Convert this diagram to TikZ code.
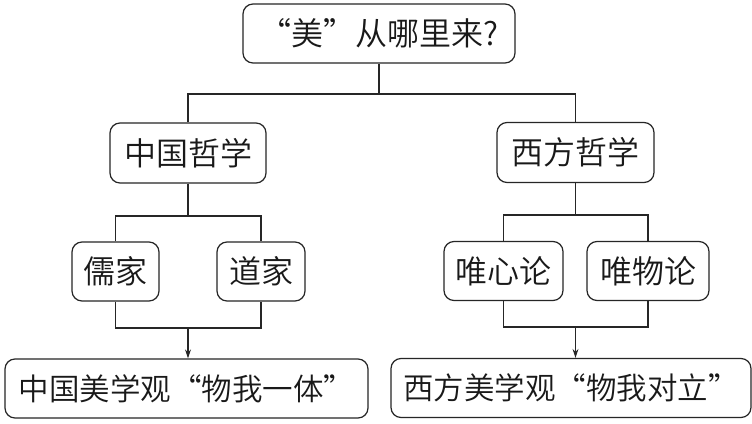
\documentclass[tikz,border=0pt]{standalone}
\usepackage{fontspec}
\newfontfamily\cjk{Noto Sans CJK SC}[UprightFont={* DemiLight}]
\usetikzlibrary{arrows.meta}
\begin{document}
\begin{tikzpicture}[x=1pt,y=-1pt,
  box/.style={draw=black!85,line width=1.2pt,rounded corners=10pt,inner sep=0pt,
    font=\cjk\fontsize{32}{36}\selectfont,text=black!90,anchor=center},
  conn/.style={draw=black!85,line width=1.1pt},
  arr/.style={conn,-{Stealth[length=9pt,width=6pt]}}]
\useasboundingbox[fill=white] (0,0) rectangle (752,423);
\node[box,minimum width=272pt,minimum height=59pt] (top) at (379,33.5) {“美”从哪里来?};
\node[box,minimum width=156pt,minimum height=60pt] (zg) at (188,153) {中国哲学};
\node[box,minimum width=157pt,minimum height=60pt] (xf) at (575.5,152.5) {西方哲学};
\node[box,minimum width=87pt,minimum height=59pt] (rj) at (115.5,271.5) {儒家};
\node[box,minimum width=88pt,minimum height=59pt] (dj) at (261,271.5) {道家};
\node[box,minimum width=119pt,minimum height=59pt] (wx) at (503.5,271) {唯心论};
\node[box,minimum width=122pt,minimum height=59pt] (ww) at (648,271) {唯物论};
\node[box,minimum width=363pt,minimum height=59pt,font=\cjk\fontsize{30.5}{36}\selectfont] (bl) at (186.5,388.5) {中国美学观“物我一体”};
\node[box,minimum width=360pt,minimum height=59pt,font=\cjk\fontsize{30.5}{36}\selectfont] (br) at (571,388) {西方美学观“物我对立”};
\coordinate (j1) at (379,94);
\coordinate (j2) at (188,216);
\coordinate (j3) at (188,328);
\coordinate (k2) at (575.5,215);
\coordinate (k3) at (575.5,327);
\draw[conn] (top.south) -- (j1);
\draw[conn] (zg.north) |- (j1) -| (xf.north);
\draw[conn] (zg.south) -- (j2);
\draw[conn] (rj.north) |- (j2) -| (dj.north);
\draw[conn] (rj.south) |- (j3) -| (dj.south);
\draw[arr] (j3) -- (j3 |- bl.north);
\draw[conn] (xf.south) -- (k2);
\draw[conn] (wx.north) |- (k2) -| (ww.north);
\draw[conn] (wx.south) |- (k3) -| (ww.south);
\draw[arr] (k3) -- (k3 |- br.north);
\end{tikzpicture}
\end{document}
